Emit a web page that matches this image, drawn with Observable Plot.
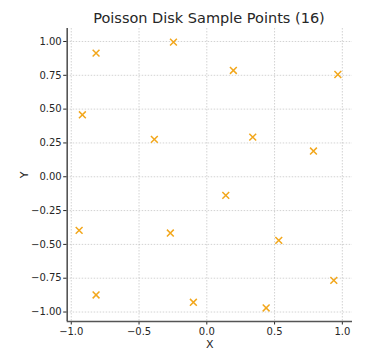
<!DOCTYPE html>
<html>
<head>
<meta charset="utf-8">
<script src="https://cdn.jsdelivr.net/npm/d3@7"></script>
<script src="https://cdn.jsdelivr.net/npm/@observablehq/plot@0.6"></script>
<style>
  html, body { margin: 0; padding: 0; background: #fff; }
  #title { width: 389px; height: 24px; line-height: 24px; box-sizing: border-box; padding-left: 29px;
           text-align: center; font-family: "DejaVu Sans", sans-serif; font-size: 14.5px; color: #262626;
           transform: translateY(6px); }
</style>
</head>
<body>
<div id="title">Poisson Disk Sample Points (16)</div>
<div id="chart"></div>
<script>
const xs = [-0.817, -0.246, -0.918, -0.387, 0.196, 0.967, 0.339, 0.787, -0.942, -0.269, -0.817, -0.099, 0.140, 0.531, 0.937, 0.438];
const ys = [0.914, 0.995, 0.458, 0.276, 0.786, 0.756, 0.293, 0.190, -0.396, -0.416, -0.874, -0.928, -0.138, -0.470, -0.766, -0.970];
const xTicks = [-1.0, -0.5, 0.0, 0.5, 1.0];
const yTicks = [-1.0, -0.75, -0.5, -0.25, 0.0, 0.25, 0.5, 0.75, 1.0];
const xDomain = [-1.03, 1.075];
const yDomain = [-1.07, 1.096];

const points = xs.map((x, i) => ({x, y: ys[i]}));
const minus = s => s.replace("-", "\u2212");

const chart = Plot.plot({
  width: 389,
  height: 333,
  marginLeft: 66.7,
  marginRight: 37,
  marginTop: 4,
  marginBottom: 36,
  style: {fontFamily: "DejaVu Sans, sans-serif", fontSize: "10px", color: "#262626", background: "#fff"},
  x: {domain: xDomain},
  y: {domain: yDomain},
  marks: [
    Plot.gridX(xTicks, {stroke: "#b0b0b0", strokeOpacity: 0.7, strokeDasharray: "1.5,1.5", strokeWidth: 0.8}),
    Plot.gridY(yTicks, {stroke: "#b0b0b0", strokeOpacity: 0.7, strokeDasharray: "1.5,1.5", strokeWidth: 0.8}),
    Plot.axisX(xTicks, {tickSize: 3.5, tickPadding: 2.5, tickFormat: d => minus(d3.format(".1f")(d)),
      label: null, fontSize: 10}),
    Plot.axisY(yTicks, {tickSize: 3.5, tickPadding: 2, tickFormat: d => minus(d3.format(".2f")(d)),
      label: null, fontSize: 10}),
    Plot.axisX({label: "X", labelAnchor: "center", labelArrow: "none", labelOffset: 26, ticks: [], fontSize: 11}),
    Plot.axisY({label: "Y", labelAnchor: "center", labelArrow: "none", labelOffset: 47, ticks: [], fontSize: 11}),
    Plot.ruleX([xDomain[0]], {stroke: "#555", strokeWidth: 1.6}),
    Plot.ruleY([yDomain[0]], {stroke: "#555", strokeWidth: 1.6}),
    Plot.dot(points, {x: "x", y: "y", symbol: "times", r: 3.2, stroke: "#f2a71c", strokeWidth: 1.5})
  ]
});
document.getElementById("chart").appendChild(chart);
</script>
</body>
</html>
